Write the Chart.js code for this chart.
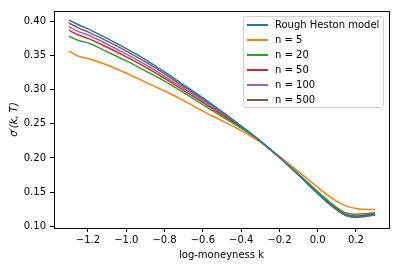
<!DOCTYPE html>
<html>
<head>
<meta charset="utf-8">
<script src="https://cdn.jsdelivr.net/npm/chart.js@4"></script>
<style>
  body { margin: 0; background: #fff; }
  #wrap { position: relative; width: 399px; height: 270px; }
  #legend {
    position: absolute; left: 243px; top: 16px; width: 139px; height: 90px;
    border: 1px solid #d0d0d0; border-radius: 3px; background: rgba(255,255,255,0.8);
    font-family: "DejaVu Sans", sans-serif; font-size: 10px; color: #000;
  }
  .item { position: absolute; left: 0; height: 15px; }
  .swatch { position: absolute; left: 3px; top: 6px; width: 21px; height: 2px; }
  .lbl { position: absolute; left: 31px; top: 0; white-space: nowrap; line-height: 14px; }
</style>
</head>
<body>
<div id="wrap">
  <canvas id="myChart" width="399" height="270"></canvas>
  <div id="legend"></div>
</div>
<script>
// log-moneyness grid
const k = [-1.3, -1.25, -1.2, -1.1, -1.0, -0.9, -0.8, -0.7, -0.6, -0.5, -0.4, -0.3, -0.25, -0.2, -0.1, 0.0, 0.05, 0.1, 0.15, 0.2, 0.25, 0.3];

const roughHeston = [0.402, 0.395, 0.389, 0.375, 0.360, 0.344, 0.326, 0.307, 0.288, 0.268, 0.247, 0.225, 0.213, 0.201, 0.175, 0.148, 0.135, 0.124, 0.1155, 0.113, 0.1145, 0.1165];
const n5   = [0.3565, 0.349, 0.3455, 0.336, 0.324, 0.311, 0.298, 0.284, 0.2685, 0.2545, 0.240, 0.223, 0.2125, 0.2025, 0.180, 0.157, 0.146, 0.1365, 0.1295, 0.126, 0.1245, 0.1245];
const n20  = [0.3785, 0.372, 0.3685, 0.3555, 0.342, 0.3275, 0.3125, 0.2955, 0.278, 0.2605, 0.2435, 0.224, 0.2125, 0.2015, 0.1765, 0.151, 0.1385, 0.1275, 0.1195, 0.1175, 0.1185, 0.120];
const n50  = [0.387, 0.380, 0.375, 0.362, 0.348, 0.333, 0.3165, 0.299, 0.2815, 0.263, 0.245, 0.2245, 0.213, 0.201, 0.1755, 0.149, 0.1365, 0.1255, 0.117, 0.115, 0.1165, 0.1185];
const n100 = [0.392, 0.385, 0.380, 0.3665, 0.352, 0.3365, 0.3195, 0.302, 0.284, 0.265, 0.2455, 0.2245, 0.213, 0.201, 0.1753, 0.1485, 0.136, 0.125, 0.1165, 0.1143, 0.116, 0.118];
const n500 = [0.3975, 0.3905, 0.3845, 0.371, 0.3565, 0.3405, 0.323, 0.3045, 0.286, 0.2665, 0.246, 0.2247, 0.213, 0.201, 0.175, 0.148, 0.1355, 0.1245, 0.116, 0.1137, 0.1153, 0.1172];

const seriesNames = ['Rough Heston model', 'n = 5', 'n = 20', 'n = 50', 'n = 100', 'n = 500'];
const seriesColors = ['#1f77b4', '#ff7f0e', '#2ca02c', '#d62728', '#9467bd', '#8c564b'];
const seriesValues = [roughHeston, n5, n20, n50, n100, n500];

const xTicks = [-1.2, -1.0, -0.8, -0.6, -0.4, -0.2, 0.0, 0.2];
const yTicks = [0.10, 0.15, 0.20, 0.25, 0.30, 0.35, 0.40];

const datasets = seriesValues.map(function(vals, i) {
    return {
        label: seriesNames[i],
        data: vals.map(function(v, j) { return {x: k[j], y: v}; }),
        borderColor: seriesColors[i],
        backgroundColor: seriesColors[i],
        borderWidth: 1.5,
        pointRadius: 0,
        fill: false,
        cubicInterpolationMode: 'monotone'
    };
});

function minus(s) { return s.replace('-', '\u2212'); }

// axes frame (top and right spines)
const frame = {
    id: 'frame',
    afterDraw: function(chart) {
        const a = chart.chartArea, c = chart.ctx;
        c.save();
        c.strokeStyle = '#000';
        c.lineWidth = 1;
        c.strokeRect(Math.round(a.left) + 0.5, Math.round(a.top) + 0.5, Math.round(a.right - a.left), Math.round(a.bottom - a.top));
        c.restore();
    }
};

const font = {family: 'DejaVu Sans', size: 10};

new Chart(document.getElementById('myChart').getContext('2d'), {
    type: 'line',
    data: {datasets: datasets},
    plugins: [frame],
    options: {
        responsive: false,
        animation: false,
        layout: {padding: {left: 0, top: 11, right: 10, bottom: 0}},
        plugins: {legend: {display: false}, tooltip: {enabled: false}},
        scales: {
            x: {
                type: 'linear', min: -1.3776, max: 0.3724,
                afterBuildTicks: function(s) { s.ticks = xTicks.map(function(v) { return {value: v}; }); },
                afterFit: function(s) { s.height = 42; },
                grid: {display: true, drawOnChartArea: false, drawTicks: true, tickLength: 4, color: '#000'},
                border: {display: true, color: '#000'},
                ticks: {font: font, color: '#000', padding: 2, maxRotation: 0,
                        callback: function(v) { return minus(v.toFixed(1)); }},
                title: {display: true, text: 'log-moneyness k', font: font, color: '#000', padding: {top: 4, bottom: 9}}
            },
            y: {
                type: 'linear', min: 0.0975, max: 0.4151,
                afterBuildTicks: function(s) { s.ticks = yTicks.map(function(v) { return {value: v}; }); },
                afterFit: function(s) { s.width = 54; },
                grid: {display: true, drawOnChartArea: false, drawTicks: true, tickLength: 4, color: '#000'},
                border: {display: true, color: '#000'},
                ticks: {font: font, color: '#000', padding: 4,
                        callback: function(v) { return v.toFixed(2); }},
                title: {display: true, text: "\u03c3\u2032(k, T)", font: {family: 'DejaVu Sans', size: 10, style: 'italic'}, color: '#000', padding: {top: 8, bottom: 4}}
            }
        }
    }
});

// legend built from the series names/colours
const legend = document.getElementById('legend');
seriesNames.forEach(function(name, i) {
    const item = document.createElement('div');
    item.className = 'item';
    item.style.top = (1 + i * 15) + 'px';
    item.innerHTML = '<div class="swatch" style="background:' + seriesColors[i] + '"></div><div class="lbl">' + name + '</div>';
    legend.appendChild(item);
});
</script>
</body>
</html>
